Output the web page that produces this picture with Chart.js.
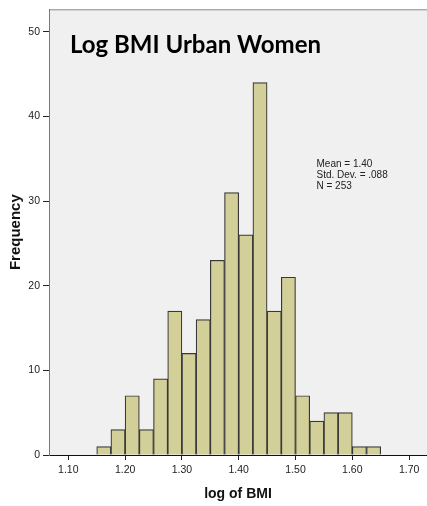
<!DOCTYPE html>
<html>
<head>
<meta charset="utf-8">
<script src="https://cdn.jsdelivr.net/npm/chart.js@4.4.1/dist/chart.umd.min.js"></script>
<style>
  body { margin: 0; background: #fff; }
  #wrap { width: 427px; height: 506px; position: relative; }
</style>
</head>
<body>
<div id="wrap"><canvas id="histograma"></canvas></div>
<script>
// bin start of each bar (width .025) and how many cases fell in it
const binStarts = [1.150, 1.175, 1.200, 1.225, 1.250, 1.275, 1.300, 1.325, 1.350, 1.375,
                   1.400, 1.425, 1.450, 1.475, 1.500, 1.525, 1.550, 1.575, 1.600, 1.625];
const counts = [1, 3, 7, 3, 9, 17, 12, 16, 23, 31, 26, 44, 17, 21, 7, 4, 5, 5, 1, 1];
const binWidth = 0.025;

const xTicks = [1.10, 1.20, 1.30, 1.40, 1.50, 1.60, 1.70];
const yTicks = [0, 10, 20, 30, 40, 50];

const chartTitle = 'Log BMI Urban Women';
const statsLines = ['Mean = 1.40', 'Std. Dev. = .088', 'N = 253'];

const tickFont = { family: 'Liberation Sans', size: 10.5 };

// grey plot box, frame line on top, title and stats text inside
const plotBox = {
  id: 'plotBox',
  beforeDraw(chart) {
    const { ctx, chartArea } = chart;
    ctx.save();
    ctx.fillStyle = '#f0f0f0';
    ctx.fillRect(chartArea.left, chartArea.top, chartArea.right - chartArea.left, chartArea.bottom - chartArea.top);
    ctx.strokeStyle = '#8a8a8a';
    ctx.lineWidth = 1;
    ctx.beginPath();
    ctx.moveTo(chartArea.left, chartArea.top + 0.5);
    ctx.lineTo(chartArea.right, chartArea.top + 0.5);
    ctx.stroke();
    ctx.restore();
  },
  afterDraw(chart) {
    const { ctx } = chart;
    ctx.save();
    let size = 26;
    ctx.font = `bold ${size}px Lato`;
    while (ctx.measureText(chartTitle).width > 252 && size > 10) {
      size -= 0.5;
      ctx.font = `bold ${size}px Lato`;
    }
    ctx.fillStyle = '#000';
    ctx.textBaseline = 'alphabetic';
    ctx.fillText(chartTitle, 70, 52.5);

    ctx.font = '10px "Liberation Sans"';
    ctx.fillStyle = '#222';
    ctx.textBaseline = 'middle';
    statsLines.forEach((line, i) => {
      ctx.fillText(line, 316.5, 164 + i * 11.3);
    });
    ctx.restore();
  }
};

const ctx = document.getElementById('histograma').getContext('2d');
new Chart(ctx, {
  type: 'bar',
  data: {
    datasets: [{
      data: binStarts.map((b, i) => ({ x: b + binWidth / 2, y: counts[i] })),
      backgroundColor: '#d3cf98',
      borderColor: '#383838',
      borderWidth: 1.2,
      barPercentage: 1,
      categoryPercentage: 1
    }]
  },
  options: {
    responsive: true,
    maintainAspectRatio: false,
    animation: false,
    layout: { padding: { top: 9, left: 0, right: 0, bottom: 0 } },
    plugins: {
      legend: { display: false },
      tooltip: { enabled: false }
    },
    scales: {
      x: {
        type: 'linear',
        min: 1.066,
        max: 1.7315,
        offset: false,
        afterBuildTicks: s => { s.ticks = xTicks.map(v => ({ value: v })); },
        afterFit: s => { s.height = 51; },
        grid: { display: true, offset: false, drawOnChartArea: false, drawTicks: true, tickLength: 5, tickColor: '#222' },
        border: { display: true, color: '#111', width: 1 },
        ticks: {
          font: tickFont,
          color: '#222',
          padding: 4,
          maxRotation: 0,
          callback: v => v.toFixed(2)
        },
        title: {
          display: true,
          text: 'log of BMI',
          font: { family: 'Liberation Sans', size: 14, weight: 'bold' },
          color: '#111',
          padding: { top: 0, bottom: 3 }
        }
      },
      y: {
        min: 0,
        max: 52.65,
        afterBuildTicks: s => { s.ticks = yTicks.map(v => ({ value: v })); },
        afterFit: s => { s.width = 49; },
        grid: { display: true, drawOnChartArea: false, drawTicks: true, tickLength: 6, tickColor: '#222' },
        border: { display: true, color: '#7a7a7a', width: 1 },
        ticks: { font: tickFont, color: '#222', padding: 3 },
        title: {
          display: true,
          text: 'Frequency',
          font: { family: 'Liberation Sans', size: 15, weight: 'bold' },
          color: '#111',
          padding: { top: 7, bottom: 0 }
        }
      }
    }
  },
  plugins: [plotBox]
});
</script>
</body>
</html>
